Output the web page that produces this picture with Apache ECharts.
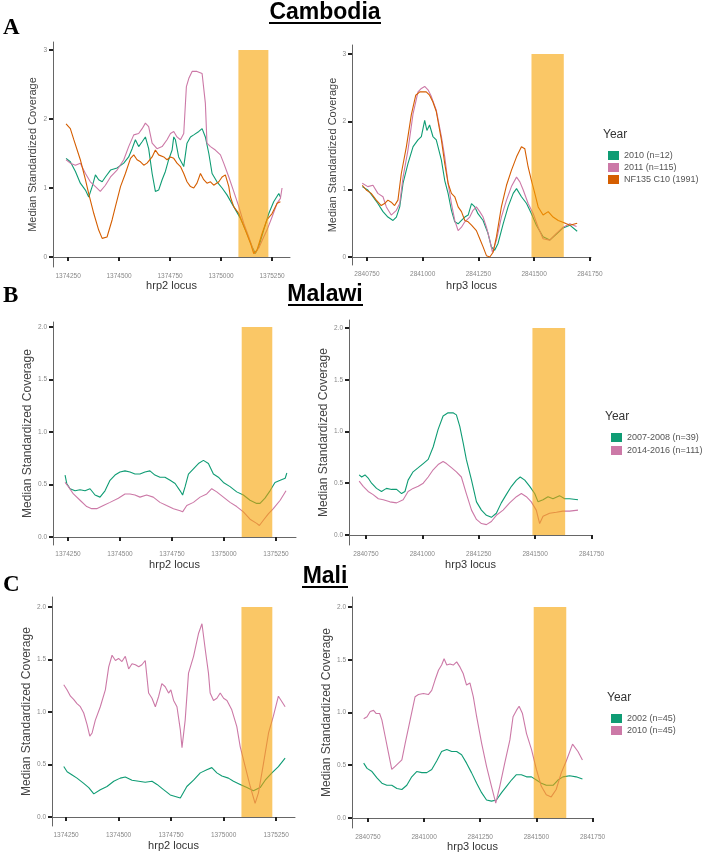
<!DOCTYPE html>
<html><head><meta charset="utf-8">
<script src="https://cdn.jsdelivr.net/npm/echarts@6/dist/echarts.min.js"></script>
<style>html,body{margin:0;padding:0;background:#fff}#c{width:708px;height:856px}</style>
</head><body><div id="c"></div>
<script>
// ---------- data ----------
const hrp2Ticks = [1374250, 1374500, 1374750, 1375000, 1375250];
const hrp3Ticks = [2840750, 2841000, 2841250, 2841500, 2841750];
const cambodiaYTicks = [0, 1, 2, 3];
const africaYTicks = [0, 0.5, 1, 1.5, 2];
const hrp2Region = [1375085, 1375232];
const hrp3Region = [2841488, 2841633];
const cambodiaRegionTop = 3;
const africaRegionTop = 2;

const cambodiaNames = ['2010 (n=12)', '2011 (n=115)', 'NF135 C10 (1991)'];
const malawiNames = ['2007-2008 (n=39)', '2014-2016 (n=111)'];
const maliNames = ['2002 (n=45)', '2010 (n=45)'];

// Cambodia hrp2
const camHrp2_2010 = [[1374240,1.43],[1374261,1.38],[1374286,1.24],[1374310,1.07],[1374335,0.97],[1374351,0.87],[1374368,1.02],[1374384,1.19],[1374400,1.12],[1374417,1.09],[1374433,1.16],[1374458,1.26],[1374490,1.29],[1374523,1.36],[1374547,1.45],[1374564,1.57],[1374580,1.70],[1374596,1.60],[1374613,1.67],[1374629,1.74],[1374645,1.57],[1374662,1.21],[1374678,0.95],[1374694,0.97],[1374711,1.12],[1374727,1.24],[1374743,1.41],[1374760,1.55],[1374768,1.74],[1374776,1.70],[1374792,1.45],[1374817,1.31],[1374833,1.65],[1374850,1.74],[1374866,1.77],[1374891,1.82],[1374907,1.86],[1374923,1.74],[1374940,1.50],[1374956,1.21],[1374980,1.09],[1375005,1.00],[1375029,0.90],[1375062,0.73],[1375095,0.56],[1375127,0.34],[1375152,0.15],[1375168,0.05],[1375185,0.15],[1375209,0.39],[1375234,0.63],[1375258,0.80],[1375283,0.92],[1375291,0.87]];
const camHrp2_2011 = [[1374240,1.41],[1374261,1.36],[1374286,1.33],[1374310,1.36],[1374335,1.21],[1374359,1.09],[1374384,1.02],[1374408,0.95],[1374433,1.04],[1374458,1.16],[1374490,1.26],[1374523,1.41],[1374547,1.60],[1374572,1.77],[1374596,1.79],[1374613,1.86],[1374629,1.94],[1374645,1.89],[1374662,1.65],[1374686,1.57],[1374711,1.60],[1374735,1.70],[1374752,1.79],[1374768,1.82],[1374784,1.74],[1374801,1.70],[1374817,1.79],[1374830,2.47],[1374842,2.59],[1374858,2.69],[1374882,2.69],[1374907,2.66],[1374923,2.23],[1374931,1.65],[1374948,1.60],[1374972,1.55],[1374997,1.48],[1375013,1.36],[1375038,1.16],[1375062,0.95],[1375087,0.73],[1375111,0.49],[1375136,0.29],[1375152,0.15],[1375163,0.05],[1375185,0.13],[1375209,0.29],[1375225,0.39],[1375250,0.58],[1375275,0.78],[1375291,0.85],[1375299,1.00]];
const camHrp2_NF135 = [[1374240,1.93],[1374261,1.86],[1374278,1.70],[1374310,1.41],[1374335,1.12],[1374351,0.92],[1374376,0.63],[1374400,0.39],[1374417,0.27],[1374425,0.25],[1374441,0.29],[1374466,0.54],[1374482,0.73],[1374507,1.02],[1374531,1.21],[1374556,1.43],[1374572,1.48],[1374588,1.41],[1374605,1.38],[1374621,1.33],[1374637,1.36],[1374662,1.45],[1374678,1.55],[1374694,1.48],[1374719,1.45],[1374735,1.41],[1374752,1.45],[1374768,1.43],[1374784,1.36],[1374801,1.31],[1374817,1.21],[1374833,1.09],[1374850,1.02],[1374866,1.00],[1374882,1.07],[1374899,1.21],[1374915,1.12],[1374931,1.07],[1374948,1.09],[1374964,1.04],[1374989,1.09],[1375005,1.16],[1375021,1.19],[1375038,1.02],[1375046,0.87],[1375062,0.73],[1375087,0.63],[1375119,0.39],[1375144,0.20],[1375160,0.05],[1375176,0.10],[1375201,0.34],[1375225,0.54],[1375250,0.63],[1375275,0.78],[1375291,0.80]];
// Cambodia hrp3
const camHrp3_2010 = [[2840729,1.04],[2840754,0.99],[2840777,0.89],[2840799,0.79],[2840822,0.67],[2840844,0.59],[2840867,0.54],[2840882,0.59],[2840897,0.74],[2840912,1.09],[2840934,1.38],[2840957,1.63],[2840979,1.73],[2840994,1.78],[2841009,2.02],[2841019,1.87],[2841031,1.95],[2841046,1.78],[2841061,1.73],[2841084,1.43],[2841099,1.13],[2841114,0.94],[2841129,0.69],[2841144,0.52],[2841159,0.49],[2841174,0.54],[2841189,0.59],[2841204,0.62],[2841219,0.79],[2841234,0.74],[2841248,0.64],[2841271,0.54],[2841293,0.35],[2841308,0.15],[2841323,0.10],[2841338,0.20],[2841361,0.49],[2841383,0.74],[2841406,0.94],[2841421,1.01],[2841443,0.89],[2841466,0.79],[2841488,0.64],[2841510,0.47],[2841540,0.30],[2841570,0.25],[2841600,0.34],[2841630,0.43],[2841660,0.47],[2841693,0.38]];
const camHrp3_2011 = [[2840729,1.09],[2840754,1.04],[2840777,1.06],[2840799,0.94],[2840822,0.89],[2840837,0.74],[2840859,0.62],[2840882,0.69],[2840897,0.79],[2840912,1.18],[2840934,1.58],[2840957,2.12],[2840979,2.44],[2840994,2.49],[2841009,2.52],[2841024,2.47],[2841039,2.37],[2841061,2.17],[2841084,1.78],[2841099,1.48],[2841114,1.09],[2841129,0.79],[2841144,0.54],[2841159,0.39],[2841174,0.44],[2841189,0.52],[2841211,0.59],[2841226,0.69],[2841241,0.74],[2841256,0.67],[2841271,0.59],[2841286,0.44],[2841301,0.25],[2841313,0.07],[2841331,0.25],[2841353,0.59],[2841376,0.84],[2841398,1.04],[2841421,1.18],[2841436,1.11],[2841451,0.99],[2841473,0.79],[2841496,0.64],[2841518,0.44],[2841540,0.27],[2841570,0.25],[2841600,0.35],[2841630,0.44],[2841660,0.49],[2841690,0.45]];
const camHrp3_NF135 = [[2840729,1.06],[2840747,0.99],[2840769,0.94],[2840792,0.84],[2840814,0.76],[2840829,0.79],[2840844,0.84],[2840859,0.81],[2840874,0.76],[2840889,0.84],[2840904,1.23],[2840927,1.63],[2840949,2.10],[2840969,2.39],[2840987,2.44],[2841001,2.44],[2841016,2.44],[2841031,2.39],[2841046,2.29],[2841061,2.15],[2841084,1.73],[2841099,1.38],[2841114,1.09],[2841129,0.94],[2841144,0.89],[2841159,0.74],[2841174,0.67],[2841189,0.54],[2841204,0.52],[2841219,0.47],[2841241,0.39],[2841256,0.27],[2841271,0.15],[2841286,0.02],[2841301,0.00],[2841316,0.07],[2841331,0.30],[2841353,0.74],[2841376,1.06],[2841398,1.28],[2841421,1.48],[2841443,1.63],[2841458,1.60],[2841473,1.33],[2841488,1.13],[2841503,0.94],[2841518,0.74],[2841540,0.62],[2841563,0.67],[2841585,0.59],[2841608,0.54],[2841623,0.52],[2841645,0.49],[2841660,0.47],[2841693,0.50]];
// Malawi hrp2
const malHrp2_0708 = [[1374236,0.59],[1374244,0.51],[1374260,0.46],[1374284,0.44],[1374308,0.45],[1374332,0.44],[1374356,0.46],[1374380,0.40],[1374404,0.38],[1374428,0.44],[1374452,0.54],[1374476,0.59],[1374500,0.62],[1374524,0.63],[1374548,0.62],[1374572,0.60],[1374596,0.60],[1374620,0.62],[1374644,0.63],[1374668,0.59],[1374692,0.57],[1374716,0.57],[1374741,0.54],[1374765,0.51],[1374789,0.44],[1374801,0.40],[1374813,0.48],[1374829,0.60],[1374853,0.65],[1374877,0.70],[1374901,0.73],[1374925,0.70],[1374949,0.60],[1374973,0.57],[1374997,0.52],[1375029,0.48],[1375061,0.43],[1375093,0.40],[1375125,0.35],[1375157,0.32],[1375173,0.32],[1375197,0.37],[1375221,0.44],[1375245,0.52],[1375270,0.54],[1375294,0.56],[1375302,0.61]];
const malHrp2_1416 = [[1374236,0.52],[1374252,0.48],[1374276,0.41],[1374308,0.35],[1374340,0.29],[1374364,0.27],[1374388,0.27],[1374420,0.30],[1374452,0.33],[1374492,0.37],[1374524,0.41],[1374548,0.41],[1374572,0.40],[1374596,0.38],[1374628,0.40],[1374660,0.38],[1374692,0.33],[1374724,0.30],[1374757,0.27],[1374789,0.25],[1374801,0.24],[1374821,0.30],[1374853,0.33],[1374885,0.38],[1374917,0.41],[1374941,0.46],[1374965,0.43],[1374997,0.38],[1375029,0.33],[1375061,0.29],[1375093,0.24],[1375125,0.17],[1375157,0.13],[1375170,0.11],[1375189,0.16],[1375213,0.22],[1375237,0.27],[1375270,0.35],[1375298,0.44]];
// Malawi hrp3
const malHrp3_0708 = [[2840720,0.58],[2840731,0.56],[2840746,0.58],[2840760,0.55],[2840775,0.50],[2840797,0.45],[2840819,0.42],[2840841,0.45],[2840864,0.44],[2840886,0.44],[2840908,0.40],[2840923,0.42],[2840937,0.53],[2840959,0.61],[2840982,0.65],[2841004,0.69],[2841026,0.73],[2841048,0.85],[2841070,1.02],[2841092,1.15],[2841114,1.18],[2841136,1.18],[2841151,1.16],[2841166,1.05],[2841181,0.89],[2841195,0.73],[2841218,0.53],[2841240,0.32],[2841262,0.24],[2841284,0.19],[2841306,0.17],[2841328,0.21],[2841350,0.31],[2841372,0.39],[2841395,0.47],[2841417,0.53],[2841434,0.56],[2841454,0.53],[2841476,0.47],[2841498,0.40],[2841513,0.32],[2841535,0.34],[2841557,0.37],[2841579,0.35],[2841608,0.38],[2841631,0.35],[2841653,0.35],[2841690,0.34]];
const malHrp3_1416 = [[2840720,0.52],[2840738,0.47],[2840760,0.42],[2840782,0.39],[2840805,0.35],[2840827,0.34],[2840856,0.32],[2840886,0.31],[2840915,0.34],[2840937,0.42],[2840959,0.45],[2840982,0.47],[2841004,0.50],[2841026,0.56],[2841048,0.63],[2841070,0.68],[2841092,0.71],[2841107,0.69],[2841129,0.65],[2841151,0.61],[2841173,0.56],[2841195,0.40],[2841218,0.24],[2841240,0.15],[2841262,0.11],[2841284,0.10],[2841306,0.13],[2841328,0.19],[2841358,0.24],[2841387,0.31],[2841417,0.37],[2841439,0.40],[2841461,0.37],[2841483,0.32],[2841505,0.24],[2841520,0.11],[2841535,0.18],[2841564,0.21],[2841594,0.22],[2841623,0.23],[2841653,0.23],[2841690,0.24]];
// Mali hrp2
const maliHrp2_2002 = [[1374239,0.48],[1374255,0.43],[1374279,0.40],[1374302,0.37],[1374334,0.32],[1374358,0.28],[1374382,0.22],[1374413,0.26],[1374445,0.29],[1374477,0.34],[1374508,0.37],[1374532,0.38],[1374564,0.35],[1374596,0.34],[1374627,0.33],[1374659,0.34],[1374683,0.31],[1374714,0.26],[1374746,0.21],[1374794,0.18],[1374825,0.29],[1374857,0.35],[1374889,0.42],[1374920,0.45],[1374944,0.47],[1374968,0.42],[1374992,0.39],[1375023,0.37],[1375047,0.34],[1375079,0.31],[1375111,0.28],[1375142,0.25],[1375174,0.28],[1375198,0.35],[1375230,0.42],[1375261,0.48],[1375293,0.56]];
const maliHrp2_2010 = [[1374239,1.26],[1374255,1.21],[1374271,1.15],[1374286,1.12],[1374302,1.08],[1374318,1.05],[1374334,0.99],[1374350,0.88],[1374363,0.77],[1374374,0.80],[1374389,0.92],[1374413,1.05],[1374437,1.21],[1374453,1.43],[1374469,1.54],[1374485,1.49],[1374500,1.51],[1374516,1.48],[1374532,1.53],[1374548,1.41],[1374564,1.46],[1374580,1.45],[1374596,1.43],[1374611,1.45],[1374627,1.49],[1374643,1.18],[1374659,1.13],[1374675,1.05],[1374691,1.15],[1374706,1.27],[1374722,1.24],[1374738,1.18],[1374749,1.21],[1374762,1.11],[1374778,1.05],[1374794,0.83],[1374802,0.66],[1374817,0.92],[1374833,1.37],[1374857,1.53],[1374881,1.75],[1374897,1.84],[1374913,1.59],[1374928,1.37],[1374936,1.18],[1374952,1.11],[1374968,1.13],[1374984,1.18],[1375000,1.13],[1375016,1.11],[1375039,1.02],[1375063,0.86],[1375079,0.67],[1375103,0.48],[1375127,0.29],[1375150,0.13],[1375166,0.23],[1375190,0.51],[1375214,0.80],[1375237,0.96],[1375261,1.15],[1375277,1.10],[1375293,1.05]];
// Mali hrp3
const maliHrp3_2002 = [[2840731,0.52],[2840746,0.47],[2840768,0.44],[2840790,0.38],[2840812,0.33],[2840834,0.31],[2840856,0.31],[2840879,0.28],[2840901,0.27],[2840923,0.31],[2840945,0.39],[2840967,0.44],[2840990,0.43],[2841012,0.43],[2841034,0.46],[2841056,0.54],[2841078,0.63],[2841101,0.65],[2841123,0.63],[2841145,0.63],[2841167,0.60],[2841189,0.52],[2841211,0.43],[2841234,0.33],[2841256,0.24],[2841278,0.17],[2841300,0.16],[2841322,0.17],[2841345,0.24],[2841367,0.30],[2841389,0.36],[2841411,0.41],[2841433,0.41],[2841456,0.39],[2841478,0.39],[2841500,0.36],[2841522,0.33],[2841544,0.31],[2841574,0.31],[2841596,0.36],[2841618,0.39],[2841648,0.40],[2841677,0.39],[2841705,0.37]];
const maliHrp3_2010 = [[2840731,0.94],[2840746,0.96],[2840760,1.01],[2840775,1.02],[2840787,0.99],[2840802,0.99],[2840812,0.93],[2840827,0.77],[2840842,0.61],[2840856,0.46],[2840871,0.49],[2840886,0.52],[2840901,0.55],[2840916,0.71],[2840938,0.93],[2840960,1.15],[2840975,1.17],[2840997,1.18],[2841019,1.17],[2841034,1.21],[2841049,1.31],[2841064,1.40],[2841078,1.45],[2841089,1.51],[2841101,1.45],[2841115,1.46],[2841130,1.45],[2841145,1.48],[2841160,1.43],[2841174,1.37],[2841189,1.26],[2841204,1.28],[2841219,1.15],[2841234,0.96],[2841256,0.71],[2841278,0.49],[2841300,0.30],[2841319,0.14],[2841337,0.30],[2841359,0.52],[2841382,0.74],[2841396,0.96],[2841411,1.02],[2841423,1.06],[2841438,0.99],[2841456,0.80],[2841478,0.65],[2841500,0.46],[2841522,0.30],[2841544,0.22],[2841566,0.20],[2841588,0.27],[2841611,0.43],[2841633,0.54],[2841661,0.70],[2841685,0.63],[2841705,0.55]];

// ---------- styling / layout ----------
const GREEN = '#0f9c74', PINK = '#cc79a7', ORANGE = '#d55e00';
const REGION_FILL = 'rgba(247,162,0,0.6)';

const panels = [
  {grid:{left:53,top:42,width:237,height:225}, x:[1374176,1375338], y:[-0.145,3.116], xt:hrp2Ticks, yt:cambodiaYTicks, dec:0, xn:'hrp2 locus', reg:hrp2Region, top:cambodiaRegionTop, ng:15, nf:11, xg:13,
   s:[[cambodiaNames[0],camHrp2_2010,GREEN],[cambodiaNames[1],camHrp2_2011,PINK],[cambodiaNames[2],camHrp2_NF135,ORANGE]]},
  {grid:{left:352,top:45,width:239,height:220}, x:[2840683,2841755], y:[-0.118,3.132], xt:hrp3Ticks, yt:cambodiaYTicks, dec:0, xn:'hrp3 locus', reg:hrp3Region, top:cambodiaRegionTop, ng:14, nf:11, xg:15,
   s:[[cambodiaNames[0],camHrp3_2010,GREEN],[cambodiaNames[1],camHrp3_2011,PINK],[cambodiaNames[2],camHrp3_NF135,ORANGE]]},
  {grid:{left:53,top:322,width:243,height:223}, x:[1374178,1375346], y:[-0.076,2.048], xt:hrp2Ticks, yt:africaYTicks, dec:1, xn:'hrp2 locus', reg:hrp2Region, top:africaRegionTop, ng:14, nf:12, xg:14,
   s:[[malawiNames[0],malHrp2_0708,GREEN],[malawiNames[1],malHrp2_1416,PINK]]},
  {grid:{left:349,top:320,width:243,height:225}, x:[2840675,2841752], y:[-0.097,2.077], xt:hrp3Ticks, yt:africaYTicks, dec:1, xn:'hrp3 locus', reg:hrp3Region, top:africaRegionTop, ng:19, nf:12, xg:14,
   s:[[malawiNames[0],malHrp3_0708,GREEN],[malawiNames[1],malHrp3_1416,PINK]]},
  {grid:{left:52,top:597,width:243,height:229}, x:[1374183,1375340], y:[-0.086,2.095], xt:hrp2Ticks, yt:africaYTicks, dec:1, xn:'hrp2 locus', reg:hrp2Region, top:africaRegionTop, ng:18, nf:12, xg:14,
   s:[[maliNames[0],maliHrp2_2002,GREEN],[maliNames[1],maliHrp2_2010,PINK]]},
  {grid:{left:352,top:597,width:241,height:231}, x:[2840679,2841752], y:[-0.095,2.095], xt:hrp3Ticks, yt:africaYTicks, dec:1, xn:'hrp3 locus', reg:hrp3Region, top:africaRegionTop, ng:15, nf:12, xg:13,
   s:[[maliNames[0],maliHrp3_2002,GREEN],[maliNames[1],maliHrp3_2010,PINK]]}
];

const grids = [], xAxes = [], yAxes = [], series = [];
const axisLine = {show:true, lineStyle:{color:'#666', width:1}};
panels.forEach((p, i) => {
  grids.push(Object.assign({containLabel:false}, p.grid));
  xAxes.push({type:'value', gridIndex:i, min:p.x[0], max:p.x[1], splitLine:{show:false},
    axisLine, axisTick:{show:true, length:4, lineStyle:{color:'#222', width:2}, customValues:p.xt},
    axisLabel:{customValues:p.xt, fontSize:6.5, color:'#888', margin:6, formatter:v=>String(v), fontFamily:'Liberation Sans'},
    name:p.xn, nameLocation:'middle', nameGap:p.xg, nameTextStyle:{fontSize:11, color:'#333', fontFamily:'Liberation Sans'}});
  yAxes.push({type:'value', gridIndex:i, min:p.y[0], max:p.y[1], splitLine:{show:false},
    axisLine, axisTick:{show:true, length:4, lineStyle:{color:'#222', width:2}, customValues:p.yt},
    axisLabel:{customValues:p.yt, fontSize:6.5, color:'#888', margin:6, formatter:v=>v.toFixed(p.dec), fontFamily:'Liberation Sans'},
    name:'Median Standardized Coverage', nameLocation:'middle', nameGap:p.ng, nameRotate:90,
    nameTextStyle:{fontSize:p.nf, color:'#444', fontFamily:'Liberation Sans'}});
  p.s.forEach(([name, data, color]) => {
    series.push({type:'line', name, xAxisIndex:i, yAxisIndex:i, data, showSymbol:false, symbol:'none',
      lineStyle:{color, width:1.1}, itemStyle:{color}, z:2, silent:true});
  });
  series.push({type:'custom', name:'region'+i, xAxisIndex:i, yAxisIndex:i, z:5, silent:true,
    data:[[p.reg[0], p.reg[1], 0, p.top]],
    encode:{x:[0,1], y:[2,3]},
    renderItem:(params, api) => {
      const a = api.coord([api.value(0), api.value(3)]);
      const b = api.coord([api.value(1), api.value(2)]);
      return {type:'rect', shape:{x:a[0], y:a[1], width:b[0]-a[0], height:b[1]-a[1]}, style:{fill:REGION_FILL}};
    }});
});

const legendBase = {orient:'vertical', icon:'rect', itemWidth:11, itemHeight:9, itemGap:3, selectedMode:false,
  textStyle:{fontSize:9, color:'#555', fontFamily:'Liberation Sans'}};
const legends = [
  Object.assign({}, legendBase, {data:cambodiaNames, left:603, top:146}),
  Object.assign({}, legendBase, {data:malawiNames, left:606, top:428, itemGap:4}),
  Object.assign({}, legendBase, {data:maliNames, left:606, top:709})
];

function txt(x, y, text, font, align) {
  return {type:'text', x, y, silent:true, style:{text, font, fill:'#000', align:align||'left', verticalAlign:'middle'}};
}
function uline(x1, x2, y) {
  return {type:'line', silent:true, shape:{x1, y1:y, x2, y2:y}, style:{stroke:'#000', lineWidth:2}};
}
const graphics = [
  txt(325, 13, 'Cambodia', 'bold 23px "Liberation Sans"', 'center'), uline(269, 381, 23),
  txt(325, 295, 'Malawi', 'bold 23px "Liberation Sans"', 'center'), uline(288, 363, 305),
  txt(325, 577, 'Mali', 'bold 23px "Liberation Sans"', 'center'), uline(302, 348, 587),
  txt(3, 28, 'A', 'bold 23px "Liberation Serif"'),
  txt(3, 296, 'B', 'bold 23px "Liberation Serif"'),
  txt(3, 585, 'C', 'bold 23px "Liberation Serif"'),
  {type:'text', x:603, y:135, silent:true, style:{text:'Year', font:'12px "Liberation Sans"', fill:'#333', verticalAlign:'middle'}},
  {type:'text', x:605, y:417, silent:true, style:{text:'Year', font:'12px "Liberation Sans"', fill:'#333', verticalAlign:'middle'}},
  {type:'text', x:607, y:698, silent:true, style:{text:'Year', font:'12px "Liberation Sans"', fill:'#333', verticalAlign:'middle'}}
];

const chart = echarts.init(document.getElementById('c'), null, {renderer:'canvas'});
chart.setOption({
  animation:false, backgroundColor:'#fff',
  grid:grids, xAxis:xAxes, yAxis:yAxes, series, legend:legends, graphic:graphics
});
</script></body></html>
